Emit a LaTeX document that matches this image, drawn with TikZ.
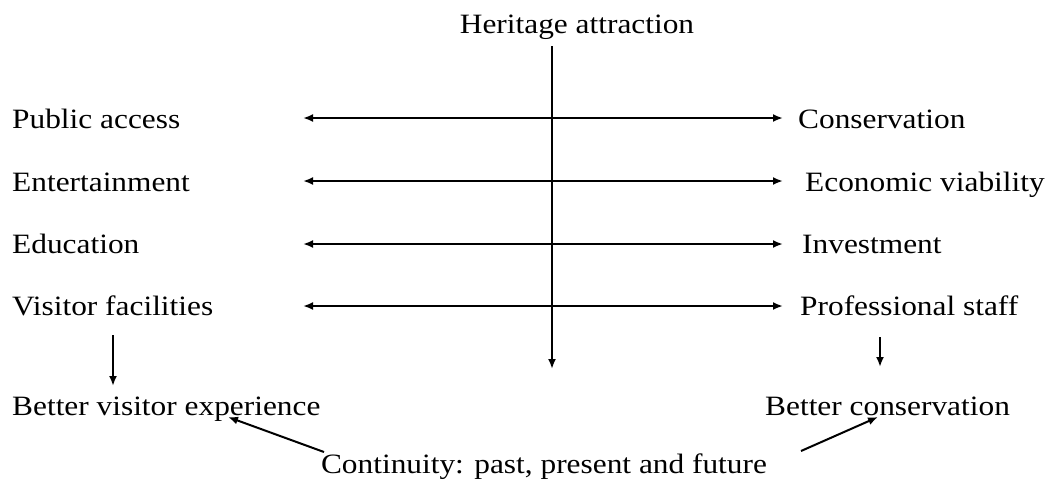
\documentclass[tikz,border=0pt]{standalone}
\usepackage{fontspec}
\setmainfont{Liberation Serif}
\usetikzlibrary{arrows.meta}
\tikzset{
  lbl/.style={inner sep=0pt, anchor=base west, font=\fontsize{28}{33}\selectfont},
  conn/.style={line width=2pt, -{Latex[length=10pt,width=8pt]}},
  dconn/.style={line width=2pt, {Latex[length=10pt,width=8pt]}-{Latex[length=10pt,width=8pt]}}
}
\newcommand{\wide}[1]{\scalebox{1.12}[1]{#1}}
\begin{document}
\begin{tikzpicture}[x=1pt,y=-1pt]
\useasboundingbox (0,0) rectangle (1049,480);
% title
\node[lbl, anchor=base] (ha) at (577,33) {\wide{Heritage attraction}};
% left labels
\node[lbl] (pa) at (12,128) {\wide{Public access}};
\node[lbl] (en) at (12,191) {\wide{Entertainment}};
\node[lbl] (ed) at (12,253) {\wide{Education}};
\node[lbl] (vf) at (12,315) {\wide{Visitor facilities}};
% right labels
\node[lbl] (co) at (798,128) {\wide{Conservation}};
\node[lbl] (ev) at (805,191) {\wide{Economic viability}};
\node[lbl] (in) at (802,253) {\wide{Investment}};
\node[lbl] (ps) at (800,315) {\wide{Professional staff}};
% bottom
\node[lbl] (bve) at (12,415) {\wide{Better visitor experience}};
\node[lbl] (bc) at (765,415) {\wide{Better conservation}};
\node[lbl, anchor=base] (cont) at (544,473) {\wide{Continuity: past, present and future}};
% coordinates
\coordinate (vtop) at (552,46);
\coordinate (vbot) at (552,369);
\foreach \i/\y in {1/118,2/181,3/244,4/306}{
  \coordinate (l\i) at (303,\y);
  \coordinate (r\i) at (783,\y);
}
\coordinate (ld1) at (113,335);
\coordinate (ld2) at (113,386);
\coordinate (rd1) at (880,337);
\coordinate (rd2) at (880,367);
\coordinate (dl1) at (324,452);
\coordinate (dl2) at (228,417);
\coordinate (dr1) at (801,451);
\coordinate (dr2) at (878,417);
% connectors
\draw[conn] (vtop) -- (vbot);
\foreach \i in {1,2,3,4}{\draw[dconn] (l\i) -- (r\i);}
\draw[conn] (ld1) -- (ld2);
\draw[conn] (rd1) -- (rd2);
\draw[conn] (dl1) -- (dl2);
\draw[conn] (dr1) -- (dr2);
\end{tikzpicture}
\end{document}
